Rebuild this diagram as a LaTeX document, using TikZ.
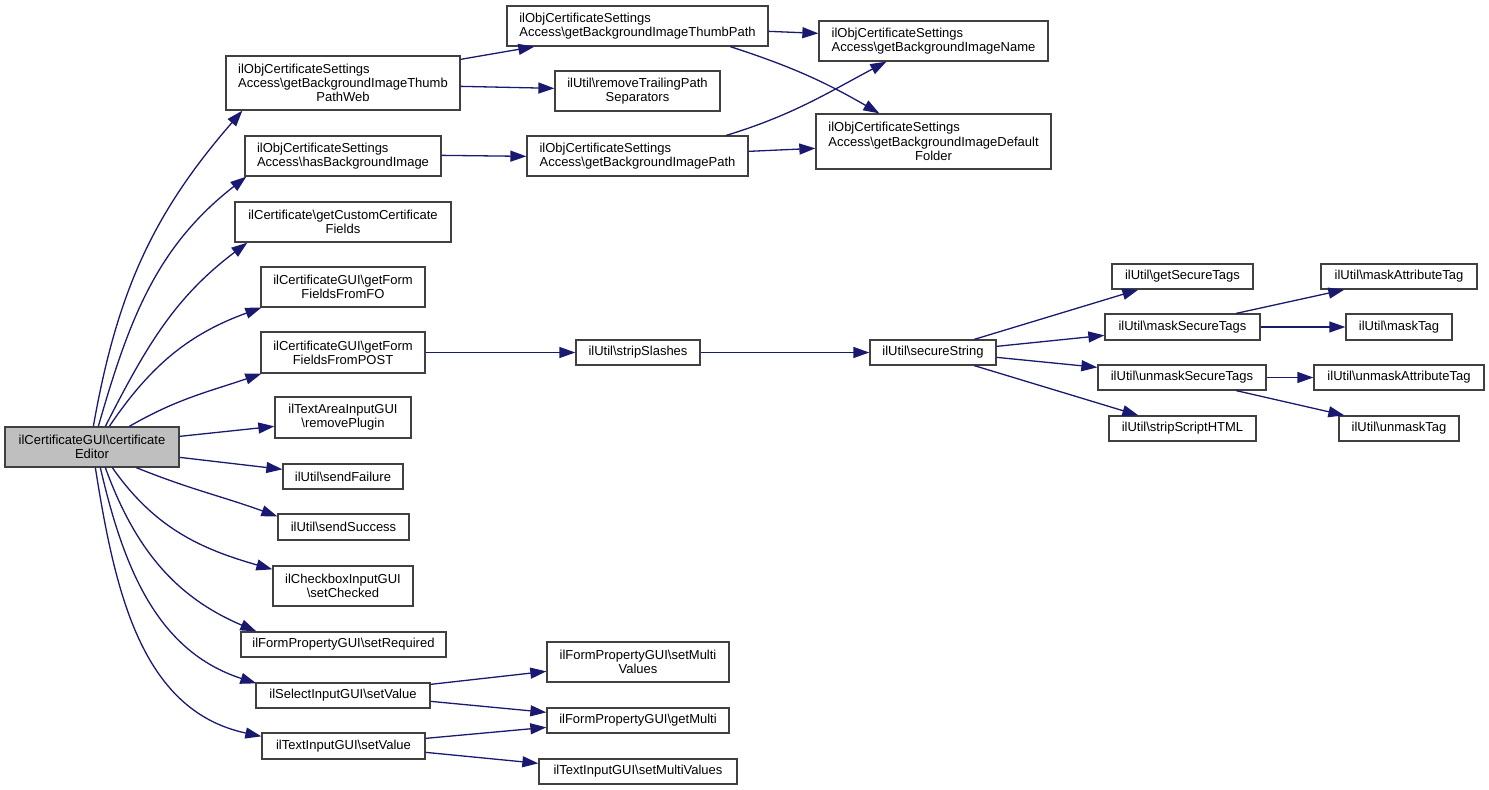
\documentclass[tikz,border=0pt]{standalone}
\usepackage{fontspec}
\usepackage{calc}
\setmainfont{Liberation Sans}
\usetikzlibrary{arrows.meta,calc}
\definecolor{edgeblue}{HTML}{191970}
\definecolor{boxline}{HTML}{404040}
\definecolor{rootfill}{HTML}{BFBFBF}
\newcommand{\bs}{\textbackslash}
\newcommand{\lw}[2]{\makebox[\widthof{#1}][l]{#2}}
\begin{document}
\begin{tikzpicture}[x=1pt,y=-1pt,
  fn/.style={draw=boxline,line width=1.3pt,fill=white,inner sep=0pt,align=center,
    font=\fontsize{13}{14.2}\selectfont},
  rootbox/.style={fn,fill=rootfill},
  call/.style={draw=edgeblue,line width=1.3pt,-{Triangle[length=16pt,width=11pt,fill=edgeblue]}}]
\useasboundingbox (0,0) rectangle (1489,790);
% ---------------- nodes ----------------
\node[rootbox,minimum width=174pt,minimum height=40pt] (root) at (92,447) {ilCertificateGUI\bs certificate\\Editor};
\node[fn,minimum width=234pt,minimum height=54pt] (web) at (343,83) {\lw{Access\bs getBackgroundImageThumb}{ilObjCertificateSettings}\\Access\bs getBackgroundImageThumb\\PathWeb};
\node[fn,minimum width=196pt,minimum height=40pt] (hasbg) at (343,156) {\lw{Access\bs hasBackgroundImage}{ilObjCertificateSettings}\\Access\bs hasBackgroundImage};
\node[fn,minimum width=216pt,minimum height=40pt] (custom) at (343,222) {ilCertificate\bs getCustomCertificate\\Fields};
\node[fn,minimum width=164pt,minimum height=40pt] (fo) at (343,287) {ilCertificateGUI\bs getForm\\FieldsFromFO};
\node[fn,minimum width=164pt,minimum height=41pt] (post) at (343,352.5) {ilCertificateGUI\bs getForm\\FieldsFromPOST};
\node[fn,minimum width=136pt,minimum height=41pt] (plugin) at (343,417.5) {ilTextAreaInputGUI\\\bs removePlugin};
\node[fn,minimum width=120pt,minimum height=25pt] (fail) at (343,476.5) {ilUtil\bs sendFailure};
\node[fn,minimum width=131pt,minimum height=26pt] (succ) at (343.5,527) {ilUtil\bs sendSuccess};
\node[fn,minimum width=140pt,minimum height=40pt] (checked) at (343,586) {ilCheckboxInputGUI\\\bs setChecked};
\node[fn,minimum width=205pt,minimum height=25pt] (req) at (343.5,644.5) {ilFormPropertyGUI\bs setRequired};
\node[fn,minimum width=174pt,minimum height=25pt] (selval) at (343,695.5) {ilSelectInputGUI\bs setValue};
\node[fn,minimum width=163pt,minimum height=26pt] (txtval) at (343.5,746) {ilTextInputGUI\bs setValue};
\node[fn,minimum width=261pt,minimum height=40pt] (thumb) at (637.5,26) {\lw{Access\bs getBackgroundImageThumbPath}{ilObjCertificateSettings}\\Access\bs getBackgroundImageThumbPath};
\node[fn,minimum width=165pt,minimum height=40pt] (trail) at (637.5,91) {ilUtil\bs removeTrailingPath\\Separators};
\node[fn,minimum width=221pt,minimum height=40pt] (path) at (637.5,156) {\lw{Access\bs getBackgroundImagePath}{ilObjCertificateSettings}\\Access\bs getBackgroundImagePath};
\node[fn,minimum width=229pt,minimum height=40pt] (name) at (933.5,41) {\lw{Access\bs getBackgroundImageName}{ilObjCertificateSettings}\\Access\bs getBackgroundImageName};
\node[fn,minimum width=235pt,minimum height=55pt] (deffold) at (933.5,141.5) {\lw{Access\bs getBackgroundImageDefault}{ilObjCertificateSettings}\\Access\bs getBackgroundImageDefault\\Folder};
\node[fn,minimum width=124pt,minimum height=25pt] (strip) at (638,352.5) {ilUtil\bs stripSlashes};
\node[fn,minimum width=126pt,minimum height=25pt] (secure) at (933,352.5) {ilUtil\bs secureString};
\node[fn,minimum width=141pt,minimum height=25pt] (gettags) at (1182.5,276.5) {ilUtil\bs getSecureTags};
\node[fn,minimum width=155pt,minimum height=26pt] (masktags) at (1182.5,327) {ilUtil\bs maskSecureTags};
\node[fn,minimum width=168pt,minimum height=25pt] (unmasktags) at (1182,377.5) {ilUtil\bs unmaskSecureTags};
\node[fn,minimum width=147pt,minimum height=25pt] (script) at (1182.5,428.5) {ilUtil\bs stripScriptHTML};
\node[fn,minimum width=156pt,minimum height=25pt] (maskattr) at (1399,276.5) {ilUtil\bs maskAttributeTag};
\node[fn,minimum width=106pt,minimum height=26pt] (masktag) at (1399,327) {ilUtil\bs maskTag};
\node[fn,minimum width=170pt,minimum height=25pt] (unmaskattr) at (1399,377.5) {ilUtil\bs unmaskAttributeTag};
\node[fn,minimum width=120pt,minimum height=25pt] (unmasktag) at (1399,428.5) {ilUtil\bs unmaskTag};
\node[fn,minimum width=182pt,minimum height=40pt] (fpmulti) at (638,662) {ilFormPropertyGUI\bs setMulti\\Values};
\node[fn,minimum width=182pt,minimum height=25pt] (getmulti) at (638,720.5) {ilFormPropertyGUI\bs getMulti};
\node[fn,minimum width=198pt,minimum height=25pt] (txtmulti) at (638,771.5) {ilTextInputGUI\bs setMultiValues};
% ---------------- edges from root ----------------
\draw[call] ($(root.north west)+(89,0)$) to[out=80,in=229] ($(web.south west)+(17,0)$);
\draw[call] ($(root.north west)+(94,0)$) to[out=74,in=218] ($(hasbg.south west)+(2,0)$);
\draw[call] ($(root.north west)+(101,0)$) to[out=63,in=217] ($(custom.south west)+(13,0)$);
\draw[call] ($(root.north west)+(105,0)$) to[out=56,in=200] ($(fo.south west)+(1,0)$);
\draw[call] ($(root.north west)+(125,0)$) to[out=30,in=199] ($(post.south west)+(1,0)$);
\draw[call] ($(root.north east)+(0,10)$) -- ($(plugin.north west)+(0,30)$);
\draw[call] ($(root.north east)+(0,31)$) -- ($(fail.north west)+(0,6)$);
\draw[call] ($(root.south west)+(132,0)$) to[out=-22,in=160] ($(succ.north west)+(0,3)$);
\draw[call] ($(root.south west)+(108,0)$) to[out=-55,in=164] ($(checked.north west)+(0,4)$);
\draw[call] ($(root.south west)+(101,0)$) to[out=-70,in=157] ($(req.north west)+(16,0)$);
\draw[call] ($(root.south west)+(96,0)$) to[out=-77,in=162] ($(selval.north west)+(1,1)$);
\draw[call] ($(root.south west)+(91,0)$) to[out=-81,in=168] ($(txtval.north west)+(0,4)$);
% ---------------- second level ----------------
\draw[call] ($(web.north east)+(0,4)$) -- ($(thumb.south west)+(28,0)$);
\draw[call] ($(web.north east)+(0,31)$) -- ($(trail.north west)+(0,18)$);
\draw[call] ($(hasbg.north east)+(0,20)$) -- ($(path.north west)+(0,21)$);
\draw[call] ($(thumb.north east)+(0,26)$) -- ($(name.north west)+(0,13)$);
\draw[call] ($(thumb.south west)+(224,0)$) to[out=-18,in=150] ($(deffold.north west)+(64,0)$);
\draw[call] ($(path.north west)+(200,0)$) to[out=17,in=208] ($(name.south west)+(68,0)$);
\draw[call] ($(path.north east)+(0,16)$) -- ($(deffold.north west)+(0,35)$);
\draw[call] (post.east) -- (strip.west);
\draw[call] (strip.east) -- (secure.west);
\draw[call] ($(secure.north west)+(105,0)$) -- ($(gettags.south west)+(27,0)$);
\draw[call] ($(secure.north east)+(0,7)$) -- ($(masktags.north west)+(0,22)$);
\draw[call] ($(secure.north east)+(0,18)$) -- ($(unmasktags.north west)+(0,3)$);
\draw[call] ($(secure.south west)+(105,0)$) -- ($(script.north west)+(30,0)$);
\draw[call] ($(masktags.north west)+(132,0)$) -- ($(maskattr.south west)+(24,0)$);
\draw[call] (masktags.east) -- (masktag.west);
\draw[call] (unmasktags.east) -- (unmaskattr.west);
\draw[call] ($(unmasktags.south west)+(139,0)$) -- ($(unmasktag.north west)+(6,0)$);
\draw[call] ($(selval.north east)+(0,2)$) -- ($(fpmulti.north west)+(0,30)$);
\draw[call] ($(selval.north east)+(0,19)$) -- ($(getmulti.north west)+(0,5)$);
\draw[call] ($(txtval.north east)+(0,6)$) -- ($(getmulti.north west)+(0,20)$);
\draw[call] ($(txtval.north east)+(0,20)$) -- ($(txtmulti.north west)+(0,5)$);
\end{tikzpicture}
\end{document}
